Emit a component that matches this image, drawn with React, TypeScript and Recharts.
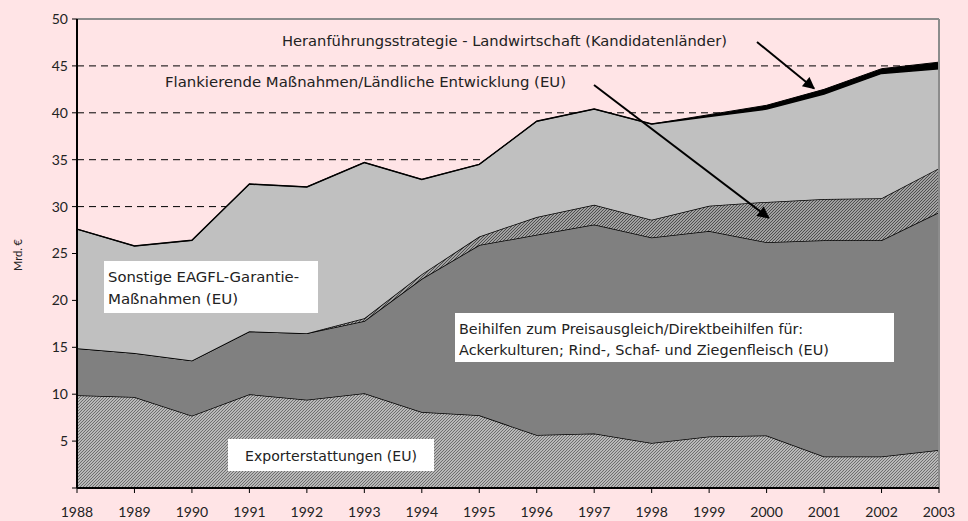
import { AreaChart, Area, XAxis, YAxis, CartesianGrid, ReferenceLine } from 'recharts'

const years = ['1988', '1989', '1990', '1991', '1992', '1993', '1994', '1995', '1996', '1997', '1998', '1999', '2000', '2001', '2002', '2003']

// Mrd. € (stacked from the bottom up)
const exporterstattungen = [9.9, 9.7, 7.7, 10.0, 9.4, 10.1, 8.1, 7.75, 5.65, 5.8, 4.8, 5.5, 5.6, 3.35, 3.35, 4.05]
const beihilfen = [5.0, 4.7, 5.9, 6.7, 7.1, 7.7, 14.2, 18.15, 21.35, 22.3, 21.9, 21.9, 20.6, 23.05, 23.05, 25.35]
const flankierende = [0, 0, 0, 0, 0, 0.3, 0.5, 0.9, 1.9, 2.1, 1.9, 2.7, 4.3, 4.4, 4.5, 4.7]
const sonstige = [12.7, 11.4, 12.8, 15.7, 15.6, 16.6, 10.1, 7.7, 10.2, 10.2, 10.2, 9.5, 9.9, 11.2, 13.3, 10.6]
const heranfuehrung = [0, 0, 0, 0, 0, 0, 0, 0, 0, 0, 0, 0.2, 0.4, 0.5, 0.5, 0.7]

const yTicks = [0, 5, 10, 15, 20, 25, 30, 35, 40, 45, 50]

const chartData = years.map((year, i) => ({
  year,
  exp: exporterstattungen[i],
  bei: beihilfen[i],
  fla: flankierende[i],
  son: sonstige[i],
  her: heranfuehrung[i],
}))

const W = 968
const H = 521
const FONT = 'Lato, "DejaVu Sans", sans-serif'
const LABEL_FONT = '"DejaVu Sans", Lato, sans-serif'

// plot box (for the annotation overlay)
const PLOT = { left: 77, right: 939, top: 19, bottom: 488 }
const px = (i: number) => PLOT.left + (i * (PLOT.right - PLOT.left)) / (years.length - 1)
const py = (v: number) => PLOT.bottom - (v * (PLOT.bottom - PLOT.top)) / 50

function Label({ x, y, len, children }: { x: number; y: number; len: number; children: string }) {
  return (
    <text x={x} y={y} textLength={len} lengthAdjust="spacingAndGlyphs" style={{ fontFamily: LABEL_FONT, fontSize: 13.5, fill: '#222' }}>
      {children}
    </text>
  )
}

function Overlay() {
  return (
    <svg width={W} height={H} style={{ position: 'absolute', left: 0, top: 0, pointerEvents: 'none' }}>
      <defs>
        <marker id="arrowHead" viewBox="0 0 10 10" refX="9" refY="5" markerWidth="7" markerHeight="6" orient="auto" markerUnits="strokeWidth">
          <path d="M0,0 L10,5 L0,10 z" fill="#000" />
        </marker>
      </defs>
      <Label x={282} y={46} len={445}>Heranführungsstrategie - Landwirtschaft (Kandidatenländer)</Label>
      <Label x={165} y={87} len={401}>Flankierende Maßnahmen/Ländliche Entwicklung (EU)</Label>

      <line x1={757} y1={42} x2={px(13) - 10} y2={py(42.6)} stroke="#000" strokeWidth={2} markerEnd="url(#arrowHead)" />
      <line x1={594} y1={85} x2={px(12) + 2} y2={py(28.8)} stroke="#000" strokeWidth={2} markerEnd="url(#arrowHead)" />

      <rect x={104} y={261} width={214} height={52} fill="#fff" />
      <Label x={108} y={282} len={191}>Sonstige EAGFL-Garantie-</Label>
      <Label x={108} y={304} len={130}>Maßnahmen (EU)</Label>

      <rect x={455} y={313} width={439} height={49} fill="#fff" />
      <Label x={459} y={334} len={344}>Beihilfen zum Preisausgleich/Direktbeihilfen für:</Label>
      <Label x={459} y={355} len={370}>Ackerkulturen; Rind-, Schaf- und Ziegenfleisch (EU)</Label>

      <rect x={228} y={439} width={206} height={32} fill="#fff" />
      <Label x={245} y={461} len={172}>Exporterstattungen (EU)</Label>

      <text transform="translate(22, 255) rotate(-90)" textAnchor="middle" style={{ fontFamily: FONT, fontSize: 11, fill: '#222' }}>
        Mrd. €
      </text>
    </svg>
  )
}

export default function App() {
  return (
    <div style={{ position: 'absolute', left: 0, top: 0, width: W, height: H, background: '#FFE4E6' }}>
      <svg width={0} height={0} style={{ position: 'absolute' }}>
        <defs>
          <pattern id="hatchLight" width="3" height="3" patternUnits="userSpaceOnUse">
            <rect width="3" height="3" fill="#ffffff" />
            <path d="M-1,1 L1,-1 M0,3 L3,0 M2,4 L4,2" stroke="#6e6e6e" strokeWidth={1.4} />
          </pattern>
          <pattern id="hatchDark" width="3" height="3" patternUnits="userSpaceOnUse">
            <rect width="3" height="3" fill="#c8c8c8" />
            <path d="M-1,1 L1,-1 M0,3 L3,0 M2,4 L4,2" stroke="#4a4a4a" strokeWidth={1.2} />
          </pattern>
        </defs>
      </svg>
      <AreaChart width={W} height={H} data={chartData} margin={{ top: 19, right: 29, bottom: 0, left: 0 }}>
        <CartesianGrid vertical={false} stroke="#000" strokeDasharray="7 5" />
        <XAxis
          dataKey="year"
          height={33}
          stroke="#000"
          strokeWidth={2}
          tickLine={{ stroke: '#000', strokeWidth: 1 }}
          tickSize={5}
          tick={{ fill: '#222', fontSize: 14, fontFamily: FONT }}
          interval={0}
          tickMargin={14}
        />
        <YAxis
          width={77}
          domain={[0, 50]}
          ticks={yTicks}
          interval={0}
          stroke="#000"
          strokeWidth={2}
          tickLine={{ stroke: '#000', strokeWidth: 1 }}
          tickSize={5}
          tickMargin={4}
          tick={{ fill: '#222', fontSize: 14, fontFamily: FONT }}
          tickFormatter={(v: number) => (v === 0 ? '' : `${v}`)}
        />
        <Area type="linear" dataKey="exp" stackId="a" fill="url(#hatchLight)" fillOpacity={1} stroke="#000" strokeWidth={1.5} isAnimationActive={false} />
        <Area type="linear" dataKey="bei" stackId="a" fill="#808080" fillOpacity={1} stroke="#000" strokeWidth={1.5} isAnimationActive={false} />
        <Area type="linear" dataKey="fla" stackId="a" fill="url(#hatchDark)" fillOpacity={1} stroke="#000" strokeWidth={1.5} isAnimationActive={false} />
        <Area type="linear" dataKey="son" stackId="a" fill="#c0c0c0" fillOpacity={1} stroke="#000" strokeWidth={1.5} isAnimationActive={false} />
        <Area type="linear" dataKey="her" stackId="a" fill="#000" fillOpacity={1} stroke="#000" strokeWidth={1} isAnimationActive={false} />
        <ReferenceLine y={50} stroke="#8c8c8c" strokeWidth={2} />
        <ReferenceLine x="2003" stroke="#8c8c8c" strokeWidth={2} />
      </AreaChart>
      <Overlay />
    </div>
  )
}
